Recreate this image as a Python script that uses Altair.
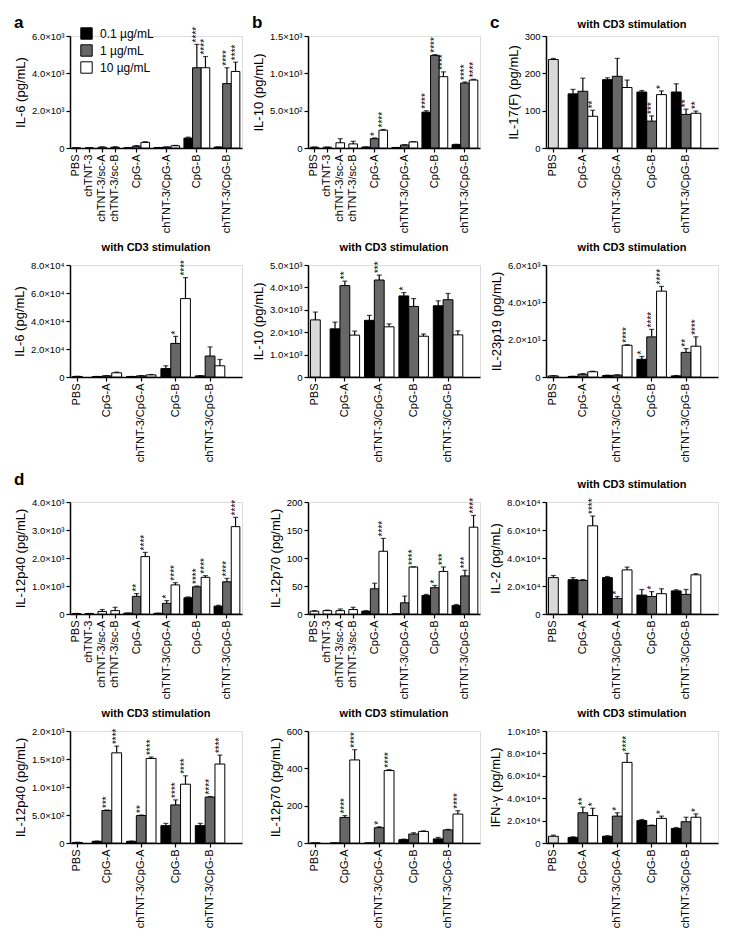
import altair as alt
import pandas as pd

FONT = "Liberation Sans"
DOSES = ["0.1 µg/mL", "1 µg/mL", "10 µg/mL"]
CONTROLS8 = ["PBS", "chTNT-3", "chTNT-3/sc-A", "chTNT-3/sc-B"]
CONTROLS5 = ["PBS"]
TREATMENTS = ["CpG-A", "chTNT-3/CpG-A", "CpG-B", "chTNT-3/CpG-B"]

# ---------------- a (top): IL-6, no stimulation
a1_ctrl_mean = [0, 5, 40, 40]
a1_ctrl_err = [0, 3, 25, 30]
a1_mean = [[10, 100, 300], [20, 50, 120], [530, 4300, 4300], [50, 3450, 4100]]
a1_err = [[5, 30, 40], [5, 10, 20], [50, 1250, 600], [10, 850, 500]]
a1_stars = [["", "", ""], ["", "", ""], ["", "****", "****"], ["", "****", "****"]]

# ---------------- b (top): IL-10, no stimulation
b1_ctrl_mean = [10, 10, 70, 55]
b1_ctrl_err = [3, 3, 55, 35]
b1_mean = [[12, 125, 238], [5, 40, 82], [480, 1240, 955], [45, 870, 910]]
b1_err = [[3, 10, 10], [2, 5, 3], [20, 10, 65], [5, 15, 10]]
b1_stars = [["", "*", "****"], ["", "", ""], ["****", "****", "****"], ["", "****", "****"]]

# ---------------- c (top): IL-17(F), CD3
c1_ctrl_mean = [237]
c1_ctrl_err = [3]
c1_mean = [[145, 152, 85], [183, 192, 162], [150, 72, 143], [150, 90, 93]]
c1_err = [[12, 35, 16], [5, 48, 20], [4, 14, 10], [22, 14, 6]]
c1_stars = [["", "", "**"], ["", "", ""], ["", "***", "*"], ["", "**", "**"]]

# ---------------- a (bottom): IL-6, CD3
a2_ctrl_mean = [400]
a2_ctrl_err = [100]
a2_mean = [[300, 800, 3000], [300, 800, 1500], [6000, 24000, 56000], [800, 15000, 8000]]
a2_err = [[100, 200, 500], [100, 200, 300], [2000, 5000, 15000], [200, 6500, 4500]]
a2_stars = [["", "", ""], ["", "", ""], ["", "*", "****"], ["", "", ""]]

# ---------------- b (bottom): IL-10, CD3
b2_ctrl_mean = [2550]
b2_ctrl_err = [350]
b2_mean = [[2150, 4080, 1870], [2530, 4330, 2240], [3620, 3150, 1820], [3180, 3450, 1880]]
b2_err = [[300, 200, 180], [220, 220, 130], [150, 350, 100], [220, 280, 180]]
b2_stars = [["", "**", ""], ["", "***", ""], ["*", "", ""], ["", "", ""]]

# ---------------- c (bottom): IL-23p19, CD3
c2_ctrl_mean = [60]
c2_ctrl_err = [10]
c2_mean = [[30, 150, 280], [80, 100, 1700], [950, 2150, 4600], [60, 1320, 1650]]
c2_err = [[10, 30, 30], [20, 20, 30], [150, 400, 250], [20, 200, 500]]
c2_stars = [["", "", ""], ["", "", "****"], ["*", "****", "****"], ["", "**", "****"]]

# ---------------- d: IL-12p40, no stimulation
d1_ctrl_mean = [15, 15, 90, 120]
d1_ctrl_err = [5, 5, 70, 120]
d1_mean = [[30, 630, 2050], [25, 380, 1040], [580, 970, 1310], [280, 1150, 3120]]
d1_err = [[5, 100, 150], [5, 100, 80], [30, 30, 60], [30, 120, 330]]
d1_stars = [["", "**", "****"], ["", "*", "****"], ["", "****", "****"], ["", "****", "****"]]

# ---------------- d: IL-12p70, no stimulation
d2_ctrl_mean = [5, 6, 6, 8]
d2_ctrl_err = [1, 1, 3, 4]
d2_mean = [[5, 45, 112], [0, 20, 84], [33, 47, 76], [15, 68, 155]]
d2_err = [[1, 10, 23], [0, 12, 0], [2, 4, 8], [2, 10, 21]]
d2_stars = [["", "", "****"], ["", "", "****"], ["", "*", "***"], ["", "***", "****"]]

# ---------------- d: IL-2, CD3
d3_ctrl_mean = [26000]
d3_ctrl_err = [1500]
d3_mean = [[24500, 24000, 63000], [26000, 11000, 31500], [13500, 12500, 14500], [16500, 14000, 28000]]
d3_err = [[1500, 600, 7000], [800, 1500, 2000], [4000, 3500, 3500], [800, 3500, 800]]
d3_stars = [["", "", "****"], ["", "*", ""], ["", "*", ""], ["", "", ""]]

# ---------------- d: IL-12p40, CD3
d4_ctrl_mean = [10]
d4_ctrl_err = [3]
d4_mean = [[30, 580, 1610], [30, 490, 1510], [310, 680, 1050], [310, 820, 1410]]
d4_err = [[5, 10, 120], [5, 10, 25], [40, 90, 150], [40, 10, 160]]
d4_stars = [["", "***", "****"], ["", "**", "****"], ["", "****", "****"], ["", "****", "****"]]

# ---------------- d: IL-12p70, CD3
d5_ctrl_mean = [0]
d5_ctrl_err = [0]
d5_mean = [[0, 137, 445], [0, 82, 388], [18, 48, 62], [22, 70, 155]]
d5_err = [[0, 10, 55], [0, 5, 5], [3, 7, 3], [8, 3, 18]]
d5_stars = [["", "****", "****"], ["", "*", "****"], ["", "", ""], ["", "", "****"]]

# ---------------- d: IFN-gamma, CD3
d6_ctrl_mean = [6000]
d6_ctrl_err = [1000]
d6_mean = [[5000, 27000, 24500], [6000, 24000, 72000], [20000, 15500, 22000], [13000, 19000, 23000]]
d6_err = [[500, 5000, 6500], [500, 3000, 8000], [1000, 500, 2000], [800, 4000, 3000]]
d6_stars = [["", "**", "*"], ["", "*", "****"], ["", "", "*"], ["", "", "*"]]

FILL_DOMAIN = DOSES + ["control", "PBS + CD3"]
FILL_RANGE = ["#000000", "#676767", "#ffffff", "#ffffff", "#d9d9d9"]

SCI = ("datum.value == 0 ? '0' : datum.value >= 99999 ? format(datum.value/100000, '.1f') + '×10⁵' : "
       "datum.value >= 9999 ? format(datum.value/10000, '.1f') + '×10⁴' : "
       "datum.value >= 999 ? format(datum.value/1000, '.1f') + '×10³' : "
       "format(datum.value/100, '.1f') + '×10²'")

PW, PH = 172, 112


def slot_domain(controls):
    if len(controls) == 4:
        ctrl_pos, first, total = [1, 4, 7, 10], 13, 40
    else:
        ctrl_pos, first, total = [1], 5, 35
    names = {p: c for p, c in zip(ctrl_pos, controls)}
    for gi, g in enumerate(TREATMENTS):
        for di, d in enumerate(DOSES):
            names[first + 7 * gi + 2 * di] = g if di == 1 else f"{g}|{d}"
    return [names.get(k, f"gap{k}") for k in range(total)]


def build_df(controls, ctrl_fill, ctrl_mean, ctrl_err, mean, err, stars):
    rows = []
    for g, m, e in zip(controls, ctrl_mean, ctrl_err):
        rows.append(dict(slot=g, dose=ctrl_fill, mean=m, top=m + e, star=""))
    for gi, g in enumerate(TREATMENTS):
        for di, d in enumerate(DOSES):
            rows.append(dict(slot=g if di == 1 else f"{g}|{d}", dose=d,
                             mean=mean[gi][di], top=mean[gi][di] + err[gi][di],
                             star=stars[gi][di]))
    return pd.DataFrame(rows)


def label_layer(text, x, y, size, align):
    ldf = pd.DataFrame({"t": [text]})
    return alt.Chart(ldf).mark_text(fontSize=size, fontWeight="bold", font=FONT, align=align,
                                    baseline="middle", color="black").encode(
        text="t:N", x=alt.value(x), y=alt.value(y))


def panel(controls, ctrl_mean, ctrl_err, mean, err, stars, ytitle, ymax, ystep,
          sci=True, title=None, title_y=-17, letter=None, letter_y=-13, legend=False):
    cd3 = len(controls) == 1
    df = build_df(controls, "PBS + CD3" if cd3 else "control",
                  ctrl_mean, ctrl_err, mean, err, stars)
    dom = slot_domain(controls)
    xenc = lambda: alt.X("slot:N", scale=alt.Scale(domain=dom, paddingInner=0, paddingOuter=0),
                         axis=alt.Axis(values=controls + TREATMENTS, labelAngle=-90, title=None))
    vals = list(range(0, ymax + 1, ystep))
    yaxis = alt.Axis(values=vals, title=ytitle, labelExpr=SCI) if sci else alt.Axis(values=vals, title=ytitle)
    yscale = alt.Scale(domain=[0, ymax], nice=False, zero=True)

    fill_legend = None
    if legend:
        fill_legend = alt.Legend(orient="none", legendX=10, legendY=-9, values=DOSES, title=None,
                                 symbolType="square", symbolSize=130, symbolStrokeColor="black",
                                 symbolStrokeWidth=1, labelFontSize=12, labelFont=FONT,
                                 rowPadding=0, labelColor="black", labelOffset=7, padding=0)
    base = alt.Chart(df)
    bars = base.mark_bar(width=alt.RelativeBandSize(2), stroke="black", strokeWidth=1).encode(
        x=xenc(),
        y=alt.Y("mean:Q", scale=yscale, axis=yaxis),
        fill=alt.Fill("dose:N", scale=alt.Scale(domain=FILL_DOMAIN, range=FILL_RANGE), legend=fill_legend),
    )
    rules = base.mark_rule(color="black", strokeWidth=1.2).encode(
        x=xenc(), y=alt.Y("mean:Q", scale=yscale, axis=yaxis), y2="top:Q")
    caps = base.mark_tick(color="black", thickness=1.2, size=5).encode(
        x=xenc(), y=alt.Y("top:Q", scale=yscale, axis=yaxis))
    txt = base.transform_filter("datum.star != ''").mark_text(
        angle=270, align="left", baseline="middle", dx=2, fontSize=10, font=FONT, color="black"
    ).encode(x=xenc(), y=alt.Y("top:Q", scale=yscale, axis=yaxis), text="star:N")
    layers = [bars, rules, caps, txt]
    if letter:
        layers.append(label_layer(letter, -56, letter_y, 17, "left"))
    if title:
        layers.append(label_layer(title, PW / 2, title_y, 11, "center"))
    return alt.layer(*layers).properties(width=PW, height=PH)


CD3 = "with CD3 stimulation"
panels = [
    panel(CONTROLS8, a1_ctrl_mean, a1_ctrl_err, a1_mean, a1_err, a1_stars, "IL-6 (pg/mL)", 6000, 2000,
          letter="a", legend=True),
    panel(CONTROLS8, b1_ctrl_mean, b1_ctrl_err, b1_mean, b1_err, b1_stars, "IL-10 (pg/mL)", 1500, 500,
          letter="b"),
    panel(CONTROLS5, c1_ctrl_mean, c1_ctrl_err, c1_mean, c1_err, c1_stars, "IL-17(F) (pg/mL)", 300, 100,
          sci=False, title=CD3, title_y=-11, letter="c"),
    panel(CONTROLS5, a2_ctrl_mean, a2_ctrl_err, a2_mean, a2_err, a2_stars, "IL-6 (pg/mL)", 80000, 20000,
          title=CD3),
    panel(CONTROLS5, b2_ctrl_mean, b2_ctrl_err, b2_mean, b2_err, b2_stars, "IL-10 (pg/mL)", 5000, 1000,
          title=CD3),
    panel(CONTROLS5, c2_ctrl_mean, c2_ctrl_err, c2_mean, c2_err, c2_stars, "IL-23p19 (pg/mL)", 6000, 2000,
          title=CD3),
    panel(CONTROLS8, d1_ctrl_mean, d1_ctrl_err, d1_mean, d1_err, d1_stars, "IL-12p40 (pg/mL)", 4000, 1000,
          letter="d", letter_y=-22),
    panel(CONTROLS8, d2_ctrl_mean, d2_ctrl_err, d2_mean, d2_err, d2_stars, "IL-12p70 (pg/mL)", 200, 50,
          sci=False),
    panel(CONTROLS5, d3_ctrl_mean, d3_ctrl_err, d3_mean, d3_err, d3_stars, "IL-2 (pg/mL)", 80000, 20000,
          title=CD3),
    panel(CONTROLS5, d4_ctrl_mean, d4_ctrl_err, d4_mean, d4_err, d4_stars, "IL-12p40 (pg/mL)", 2000, 500,
          title=CD3),
    panel(CONTROLS5, d5_ctrl_mean, d5_ctrl_err, d5_mean, d5_err, d5_stars, "IL-12p70 (pg/mL)", 600, 200,
          sci=False, title=CD3),
    panel(CONTROLS5, d6_ctrl_mean, d6_ctrl_err, d6_mean, d6_err, d6_stars, "IFN-γ (pg/mL)", 100000, 20000,
          title=CD3),
]

chart = alt.concat(*panels, columns=3, spacing={"row": 7, "column": 8}).resolve_scale(
    x="independent", y="independent", fill="independent"
).resolve_legend(fill="independent").configure_view(stroke=None).configure(
    font=FONT, background="white"
).configure_axis(
    domainColor="black", domainWidth=1.5, tickColor="black", tickWidth=1.2, tickSize=4,
    labelColor="black", titleColor="black", labelFont=FONT, titleFont=FONT, grid=False,
).configure_axisX(labelFontSize=11, labelPadding=2).configure_axisY(
    labelFontSize=9.5, titleFontSize=13, titleFontWeight="normal", titlePadding=4, labelPadding=2
)

chart.save("out.html", embed_options={"renderer": "svg", "actions": False})
